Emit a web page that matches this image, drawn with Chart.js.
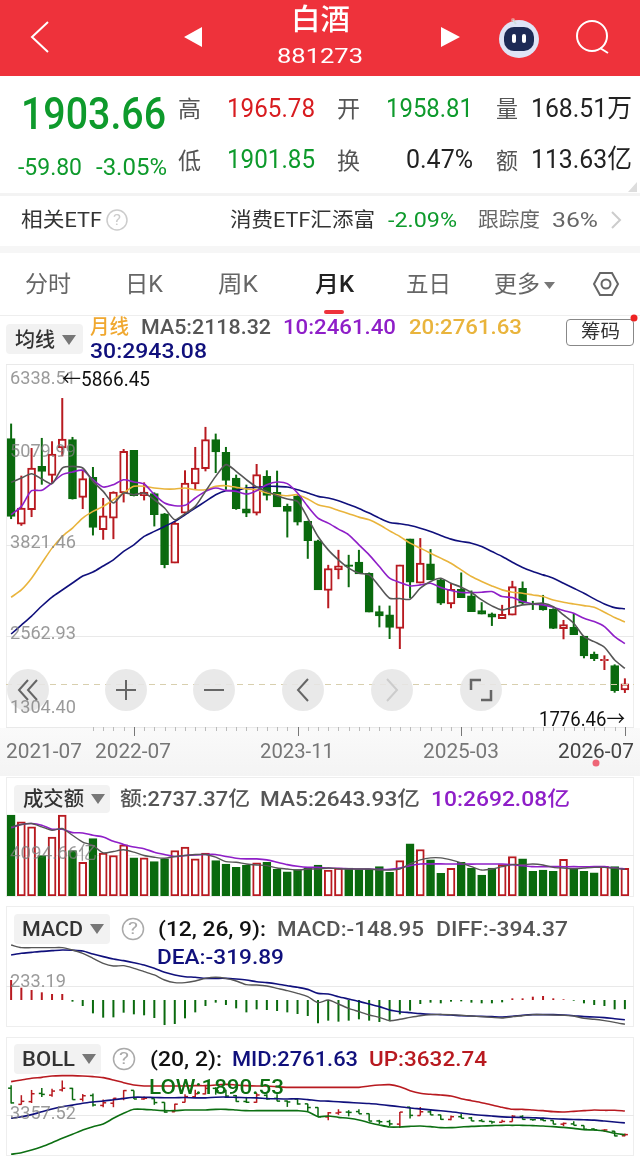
<!DOCTYPE html>
<html lang="zh"><head><meta charset="utf-8"><title>白酒 881273</title>
<script src="https://cdn.jsdelivr.net/npm/chart.js@4"></script>
<style>
html,body{margin:0;padding:0;background:#fff;width:640px;height:1169px;overflow:hidden}
#page{position:relative;width:640px;height:1169px;overflow:hidden;font-family:Roboto,"Noto Sans CJK SC",sans-serif}
.b{position:absolute;box-sizing:border-box}
.t{position:absolute;white-space:nowrap;transform-origin:0 50%;z-index:5}
canvas{position:absolute;z-index:2}
svg{position:absolute;left:0;top:0;z-index:4;pointer-events:none}
</style></head><body><div id="page">
<div class="b" style="left:0;top:0;width:640px;height:76px;background:#ee323b"></div>
<div class="b" style="left:0;top:193px;width:640px;height:3px;background:#f3f3f3"></div>
<div class="b" style="left:0;top:246px;width:640px;height:7px;background:#f6f6f6"></div>
<div class="b" style="left:0;top:315px;width:640px;height:1px;background:#eee"></div>
<div class="b" style="left:324px;top:310px;width:20px;height:4px;border-radius:2px;background:#ee323b"></div>
<div class="b" style="left:0;top:728px;width:640px;height:48px;background:linear-gradient(#fafafa,#f4f4f4)"></div>
<div class="b" style="left:6px;top:364px;width:628px;height:364px;border:1px solid #eee;border-bottom:0"></div>
<div class="b" style="left:6px;top:777px;width:628px;height:120px;border:1px solid #eee"></div>
<div class="b" style="left:6px;top:906px;width:628px;height:121px;border:1px solid #eee"></div>
<div class="b" style="left:6px;top:1037px;width:628px;height:119px;border:1px solid #eee"></div>
<div class="b" style="left:6px;top:324px;width:77px;height:30px;border-radius:4px;background:#f2f2f2"></div>
<div class="b" style="left:14px;top:785px;width:96px;height:28px;border-radius:4px;background:#f2f2f2;z-index:3"></div>
<div class="b" style="left:14px;top:914px;width:96px;height:30px;border-radius:4px;background:#f2f2f2;z-index:3"></div>
<div class="b" style="left:14px;top:1044px;width:87px;height:30px;border-radius:4px;background:#f2f2f2;z-index:3"></div>
<div class="b" style="left:566px;top:319px;width:68px;height:27px;border:1px solid #888;border-radius:4px;background:#fff"></div>
<canvas id="cMain" width="628" height="376" style="left:6px;top:364px"></canvas>
<canvas id="cVol" width="628" height="85" style="left:6px;top:811px"></canvas>
<canvas id="cMacd" width="628" height="85" style="left:6px;top:942px"></canvas>
<canvas id="cBoll" width="628" height="82" style="left:6px;top:1073px"></canvas>
<svg width="640" height="1169" viewBox="0 0 640 1169">
 <path d="M48 22 L32 37 L48 52" fill="none" stroke="#fff" stroke-width="2"/>
 <path d="M202 27 V47 L184 37 Z M441 27 V47 L460 37 Z" fill="#fff"/>
 <ellipse cx="519" cy="39" rx="20" ry="19" fill="#dfe4f6"/><circle cx="513" cy="20" r="2" fill="#e88"/>
 <path d="M513 20 L516 24" stroke="#cdd" stroke-width="2"/>
 <rect x="504" y="27" width="30" height="24" rx="10" fill="#1d2a55"/>
 <rect x="512" y="34" width="4" height="9" rx="2" fill="#fff"/><rect x="522" y="34" width="4" height="9" rx="2" fill="#fff"/>
 <circle cx="592" cy="36" r="15" fill="none" stroke="#fff" stroke-width="2"/><path d="M600 48 L608 53" stroke="#fff" stroke-width="2"/>
 <path d="M628 192 L637 182 V192 Z" fill="#ddd"/>
 <circle cx="117" cy="220" r="10" fill="none" stroke="#ccc" stroke-width="1.5"/>
 <path d="M612 212 L620 220 L612 228" fill="none" stroke="#ccc" stroke-width="2"/>
 <path d="M594 284 L600 273 H612 L618 284 L612 295 H600 Z" fill="none" stroke="#666" stroke-width="2"/><circle cx="606" cy="284" r="4.5" fill="none" stroke="#666" stroke-width="2"/>
 <path d="M544 282 H555 L549.500 289 Z" fill="#777"/>
 <path d="M62 335 H76 L69 345 Z M91 794 H105 L98 804 Z M90 924 H104 L97 934 Z M82 1054 H96 L89 1064 Z" fill="#777"/>
 <circle cx="634" cy="318" r="3.500" fill="#e22"/>
 <circle cx="133" cy="929" r="10.500" fill="none" stroke="#aaa" stroke-width="1.500"/>
 <circle cx="124" cy="1059" r="10.500" fill="none" stroke="#aaa" stroke-width="1.500"/>
 <g fill="#e6e6e6" fill-opacity=".88">
  <circle cx="28" cy="690" r="21"/><circle cx="126" cy="690" r="21"/><circle cx="214" cy="690" r="21"/><circle cx="303" cy="690" r="21"/><circle cx="392" cy="690" r="21"/><circle cx="481" cy="690" r="21"/>
 </g>
 <g fill="none" stroke="#666" stroke-width="2">
  <path d="M28 680 L19 690 L28 700 M37 680 L28 690 L37 700"/>
  <path d="M116 690 H136 M126 680 V700"/><path d="M204 690 H224"/><path d="M308 679 L298 690 L308 701"/>
  <path d="M387 679 L397 690 L387 701" stroke="#ccc"/>
  <path d="M471 690 V680 H481 M491 690 V700 H481" stroke-width="2.500"/>
 </g>
 <circle cx="596" cy="763" r="3.500" fill="#ee6677"/>
</svg>
</div>
<script>
const categories=["2021-07","2021-08","2021-09","2021-10","2021-11","2021-12","2022-01","2022-02","2022-03","2022-04","2022-05","2022-06","2022-07","2022-08","2022-09","2022-10","2022-11","2022-12","2023-01","2023-02","2023-03","2023-04","2023-05","2023-06","2023-07","2023-08","2023-09","2023-10","2023-11","2023-12","2024-01","2024-02","2024-03","2024-04","2024-05","2024-06","2024-07","2024-08","2024-09","2024-10","2024-11","2024-12","2025-01","2025-02","2025-03","2025-04","2025-05","2025-06","2025-07","2025-08","2025-09","2025-10","2025-11","2025-12","2026-01","2026-02","2026-03","2026-04","2026-05","2026-06","2026-07"];
const axisDates=["2021-07","2022-07","2023-11","2025-03","2026-07"];
const opens=[5304,4118,4317,4919,4794,5174,5290,4489,4767,4040,4202,4549,5142,4512,4540,4262,3577,4271,4674,4887,5290,5114,4757,4331,4271,4780,4558,4364,4503,4156,3887,3197,3484,3553,3590,3437,2905,2859,2673,3914,3298,3567,3345,3011,3215,3123,2919,2873,2808,2854,3229,3011,2998,2937,2669,2687,2567,2317,2224,2155,1817];
const closes=[4225,4341,4896,4850,5091,5299,4466,4748,4072,4234,4563,5128,4512,4563,4248,3554,4132,4688,4896,5290,5118,4725,4331,4271,4804,4517,4355,4294,4146,3887,3206,3502,3539,3530,3428,2896,2845,2687,3553,3312,3576,3345,3021,3215,3099,2905,2868,2826,2868,3252,3021,2998,2928,2673,2724,2585,2289,2252,2243,1808,1903.66];
const highs=[5512,4790,5174,5313,5267,5866.45,5327,4873,4910,4480,4572,5160,5142,4697,4558,4271,4155,4864,5188,5466,5373,5188,4804,4665,4952,4864,4859,4401,4526,4165,3901,3553,3761,3692,3761,3447,2988,2988,3553,3914,3924,3771,3359,3298,3447,3197,3035,2891,2998,3331,3322,3053,3136,2951,2789,2882,2567,2349,2298,2173,1979];
const lows=[4188,4095,4216,4665,4679,5058,4460,4327,3961,3901,3910,4419,4503,4447,4086,3507,3577,4248,4595,4850,4827,4595,4317,4216,4239,4447,4355,3933,4100,3637,3206,2951,3354,3243,3428,2896,2687,2525,2386,3090,3298,3345,2998,2951,3099,2905,2868,2706,2808,2854,2998,2928,2919,2664,2521,2585,2257,2220,2095,1780,1776.46];
const ma5=[4697,4757,4817,4743,4679,4896,4919,4896,4711,4572,4410,4549,4526,4549,4456,4341,4179,4262,4364,4572,4780,4943,4850,4734,4632,4572,4512,4466,4433,4202,3947,3761,3623,3507,3437,3414,3252,3090,3086,3076,3229,3322,3368,3298,3243,3169,3067,2984,2928,2965,2998,3011,3021,2974,2859,2743,2558,2488,2410,2234,2118.32];
const ma10=[4248,4364,4581,4586,4688,4804,4841,4864,4734,4632,4665,4734,4702,4674,4526,4410,4373,4378,4480,4572,4618,4586,4572,4535,4581,4665,4702,4679,4549,4364,4202,4132,4049,3970,3831,3692,3530,3368,3308,3261,3275,3298,3238,3197,3169,3169,3173,3183,3113,3099,3044,3011,2998,2965,2919,2882,2812,2766,2697,2558,2461.40];
const ma20=[3104,3206,3368,3577,3785,3947,4063,4202,4294,4364,4456,4549,4642,4642,4618,4605,4605,4618,4595,4595,4642,4651,4628,4605,4595,4549,4526,4512,4526,4466,4387,4354,4308,4262,4215,4178,4109,4025,3947,3854,3785,3715,3646,3576,3484,3391,3322,3261,3206,3173,3160,3136,3113,3067,3035,3011,2988,2965,2896,2822,2761.63];
const ma30=[2594,2718,2843,2982,3107,3204,3301,3398,3453,3537,3623,3739,3831,3947,4017,4086,4156,4248,4341,4433,4526,4581,4586,4618,4628,4642,4642,4632,4595,4549,4503,4479,4442,4391,4336,4271,4201,4141,4123,4099,4062,4016,3961,3910,3877,3854,3808,3738,3669,3590,3516,3461,3414,3368,3298,3229,3160,3081,3011,2960,2943.08];
const amount=[8016,7348,6847,4008,5845,8016,4509,3340,5678,4242,4008,5077,3774,3774,3407,3674,4509,4843,3674,4242,3507,3173,2839,3073,3273,3340,2672,2405,2605,2772,3073,2572,2772,2772,2605,2672,2906,2338,3507,5177,4609,3574,2238,2739,3340,2772,2071,2772,3106,3908,3674,2438,2572,2438,3641,2772,2438,2305,2939,2906,2737.37];
const amountMa5=[6847,7081,7181,6847,6513,6680,6012,5344,5010,4275,4409,4576,4342,4008,3841,3741,3908,4008,4108,4108,3841,3407,3340,3173,3073,3006,2772,2672,2572,2672,2672,2772,2705,2672,2672,2672,2572,2572,2672,3173,3574,3774,3774,3574,3273,2906,2572,2672,2906,3106,3106,3173,3073,2839,2772,2705,2772,2839,2839,2739,2643.93];
const amountMa10=[6747,7081,7181,7014,6613,6613,6279,6246,6012,5845,5411,5110,4843,4676,4342,4108,3908,4008,4075,4108,4108,3908,3741,3674,3674,3574,3340,3106,2939,2839,2839,2772,2739,2705,2672,2672,2639,2639,2772,3006,3173,3173,3180,3165,3170,3160,3175,3170,3173,3106,3006,2906,2906,2910,2900,2906,2900,2906,2906,2772,2692.08];
const diff=[894,851,851,851,851,851,813,759,678,596,553,558,515,461,407,325,282,282,309,352,369,352,309,249,244,228,190,152,108,54,-43,0,-65,-136,-190,-244,-282,-336,-314,-282,-255,-238,-233,-238,-249,-260,-271,-282,-293,-271,-255,-238,-238,-244,-249,-260,-298,-314,-336,-363,-394.37];
const dea=[732,759,775,791,802,813,808,797,748,705,667,640,607,569,515,450,407,379,369,352,352,352,341,325,298,282,260,233,206,173,108,98,54,16,-22,-65,-108,-163,-190,-206,-222,-233,-238,-244,-255,-260,-266,-271,-276,-266,-249,-238,-238,-238,-244,-255,-271,-276,-287,-304,-319.89];
const macd=[325,200,163,125,98,98,-27,-98,-217,-287,-282,-206,-233,-249,-293,-407,-390,-298,-201,-98,-43,-81,-136,-201,-152,-163,-179,-201,-228,-260,-380,-336,-352,-336,-314,-336,-358,-347,-233,-173,-65,-43,-54,-27,-22,-43,-54,-54,-38,27,27,54,65,27,11,-11,-54,-81,-98,-152,-148.95];
const bollUp=[5780,5902,6024,6097,6195,6219,6219,6195,6146,6073,5902,5707,5536,5463,5463,5463,5463,5463,5487,5487,5536,5585,5536,5487,5463,5463,5414,5365,5365,5365,5365,5365,5365,5365,5365,5463,5536,5560,5414,5121,4926,4853,4804,4731,4536,4389,4243,4072,3901,3755,3755,3706,3657,3584,3560,3608,3657,3706,3682,3682,3632.74];
const bollLow=[461,583,778,1022,1315,1632,1925,2242,2486,2681,3096,3462,3755,3755,3706,3657,3657,3706,3706,3706,3755,3755,3706,3657,3657,3657,3657,3657,3657,3584,3218,3267,3169,3096,2974,2779,2608,2462,2462,2510,2535,2486,2413,2413,2462,2510,2535,2559,2584,2584,2584,2559,2535,2486,2437,2364,2266,2242,2169,1998,1890.53];
const priceGrid=[6338.51,5079.99,3821.46,2562.93,1304.40];
const priceTickLabels=["6338.51","5079.99","3821.46","2562.93","1304.40"];
const amountGrid=[4094.66],amountTickLabels=["4094.66亿"];
const macdGrid=[233.19],macdTickLabels=["233.19"];
const bollGrid=[3357.52],bollTickLabels=["3357.52"];
const lastPrice=1903.66;

const GREEN='#0a6a0e',RED='#b81a20',GRAY='#565656',PURPLE='#8f1fc8',YEL='#e9b43c',NAVY='#10107c',QG='#0e9a2c',QR='#d81c20';
const page=document.getElementById('page');
function T(s,x0,x1,yc,size,color,o={}){
  const e=document.createElement('div');e.className='t';e.textContent=s;
  e.style.cssText+=`left:${x0}px;top:${yc-size}px;line-height:${size*2}px;height:${size*2}px;font-size:${size}px;color:${color};font-weight:${o.w||400}`;
  page.appendChild(e);
  if(x1){const w=e.getBoundingClientRect().width;e.style.transform=`scaleX(${(x1-x0)/w})`;}
  return e;
}
const isUp=i=>closes[i]>=opens[i];
const upColor=(c)=>c.dataIndex!==undefined&&isUp(c.dataIndex)?RED:GREEN;
const fillColor=(c)=>c.dataIndex!==undefined&&isUp(c.dataIndex)?'#fff':GREEN;
const lineDs=(data,color,order,w=1.6)=>({type:'line',data,borderColor:color,borderWidth:w,pointRadius:0,tension:.25,order,fill:false});
const wicks=()=>({type:'bar',data:lows.map((l,i)=>[l,highs[i]]),backgroundColor:upColor,barThickness:2,inflateAmount:0,grouped:false,order:9,borderWidth:0});
const bodies=()=>({type:'bar',data:opens.map((o,i)=>[Math.min(o,closes[i]),Math.max(o,closes[i])]),backgroundColor:fillColor,borderColor:upColor,borderWidth:2,borderSkipped:false,barThickness:8,grouped:false,order:8});
const gridPlugin=(vals)=>({id:'frameGrid',beforeDatasetsDraw(ch){const c=ch.ctx,y=ch.scales.y;c.save();c.strokeStyle='#e9e9e9';c.lineWidth=1;
  vals.forEach(v=>{const p=Math.round(y.getPixelForValue(v))+.5;c.beginPath();c.moveTo(0,p);c.lineTo(ch.width,p);c.stroke();});c.restore();}});
const lastLine={id:'lastLine',afterDatasetsDraw(ch){const c=ch.ctx,p=Math.round(ch.scales.y.getPixelForValue(lastPrice))+.5;c.save();c.strokeStyle='#d8cfae';c.setLineDash([6,5]);c.beginPath();c.moveTo(0,p);c.lineTo(ch.width,p);c.stroke();c.restore();}};
const ruler={id:'ruler',afterDraw(ch){const c=ch.ctx,x=ch.scales.x,b=ch.chartArea.bottom;c.save();c.lineWidth=1;
  categories.forEach((d,i)=>{if(i<8)return;const maj=axisDates.includes(d),p=Math.round(x.getPixelForValue(i))+.5;c.beginPath();c.moveTo(p,b);c.lineTo(p,b+(maj?9:4));c.strokeStyle=maj?'#777':'#bbb';c.stroke();});c.restore();}};
function make(id,datasets,min,max,plugins,bottom=0){
  return new Chart(document.getElementById(id),{type:'bar',data:{labels:categories,datasets},plugins,
   options:{responsive:false,animation:false,events:[],layout:{autoPadding:false,padding:{left:0,right:4,top:0,bottom}},
    plugins:{legend:{display:false},tooltip:{enabled:false}},
    scales:{x:{display:false,offset:true},y:{display:false,min,max}}}});
}
const main=make('cMain',[lineDs(ma5,GRAY,1),lineDs(ma10,PURPLE,2),lineDs(ma20,YEL,3),lineDs(ma30,NAVY,4),bodies(),wicks()],1304.40,6338.51,[gridPlugin(priceGrid),lastLine,ruler],13);
const vol=make('cVol',[lineDs(amountMa5,GRAY,1,1.4),lineDs(amountMa10,PURPLE,2,1.6),{type:'bar',data:amount,backgroundColor:fillColor,borderColor:upColor,borderWidth:2,borderSkipped:false,barThickness:8,grouped:false,order:8}],0,8417,[gridPlugin(amountGrid)]);
const mac=make('cMacd',[lineDs(diff,GRAY,1,1.4),lineDs(dea,NAVY,2,1.6),{type:'bar',data:macd,backgroundColor:(c)=>macd[c.dataIndex]>=0?RED:GREEN,barThickness:2,inflateAmount:0,grouped:false,order:8}],-439,943,[gridPlugin(macdGrid)]);
const tickDs=(data,rot)=>({type:'line',data,showLine:false,pointStyle:'dash',pointRotation:rot,pointRadius:3,pointBorderWidth:1.5,pointBorderColor:upColor,pointBackgroundColor:upColor,order:7});
const bol=make('cBoll',[lineDs(bollUp,RED,1,1.6),lineDs(ma20,NAVY,2,1.6),lineDs(bollLow,'#0c6f12',3,1.6),tickDs(opens,180),tickDs(closes,0),{...wicks(),barThickness:1.5}],412,6414,[gridPlugin(bollGrid)]);

// header
T('白酒',291,350,20,29,'#fff',{w:500});
T('881273',277,363,56,21,'#fff');
T('1903.66',21,166,114,45,QG,{w:500});
T('-59.80',18,82,167,24,QG);T('-3.05%',96,167,167,24,QG);
[['高',178,201,110],['开',337,360,110],['量',496,518,110],['低',178,201,162],['换',337,360,162],['额',496,518,162]].forEach(a=>T(a[0],a[1],a[2],a[3],23,'#555'));
T('1965.78',227,315,108,26,QR);T('1958.81',386,473,108,26,QG);T('168.51万',531,632,108,26,'#222');
T('1901.85',227,315,159,26,QG);T('0.47%',406,473,159,26,'#222');T('113.63亿',531,632,159,26,'#222');
T('相关ETF',21,102,220,20,'#333');T('?',113,121,220,15,'#ccc');
T('消费ETF汇添富',230,375,220,20,'#333');T('-2.09%',388,457,220,20,QG);T('跟踪度',478,540,220,20,'#666');T('36%',552,598,220,20,'#666');
[['分时',25,71],['日K',125,163],['周K',218,258],['五日',406,451],['更多',494,540]].forEach(a=>T(a[0],a[1],a[2],285,23,'#666'));
T('月K',315,354,285,23,'#222',{w:500});
// main legend
T('均线',15,55,340,20,'#333',{w:500});
T('月线',90,129,327,20,'#f0a830',{w:500});T('MA5:2118.32',141,271,327,20,GRAY,{w:500});T('10:2461.40',283,396,327,20,PURPLE,{w:500});T('20:2761.63',409,522,327,20,YEL,{w:500});T('30:2943.08',90,207,351,20,NAVY,{w:500});
T('筹码',581,620,332,19,'#333');
// axis values, positioned through each chart's own scale
const ax=(ch,vals,labs,offs,x1s)=>vals.forEach((v,i)=>T(labs[i],10,x1s[i],ch.canvas.offsetTop+ch.scales.y.getPixelForValue(v)+offs[i],18,'rgba(125,125,125,.78)'));
ax(main,priceGrid,priceTickLabels,[14,-4,-3,-3,-20],[76,76,76,76,76]);
ax(vol,amountGrid,amountTickLabels,[-2],[97]);
ax(mac,macdGrid,macdTickLabels,[-5],[66]);
ax(bol,bollGrid,bollTickLabels,[-2],[76]);
T('←5866.45',62,150,379,20,'#111');T('1776.46→',539,625,719,20,'#111');
// x dates
[[0,6,82],[1,95,171],[2,260,334],[3,423,499]].forEach(a=>T(axisDates[a[0]],a[1],a[2],751,20,'#777'));
T(axisDates[4],558,634,751,20,'#444');
// volume legend
T('成交额',23,84,799,20,'#333',{w:500});T('额:2737.37亿',120,250,799,20,GRAY,{w:500});T('MA5:2643.93亿',260,420,799,20,GRAY,{w:500});T('10:2692.08亿',431,570,799,20,PURPLE,{w:500});
// MACD legend
T('MACD',22,83,929,20,'#333',{w:500});T('?',128,138,929,16,'#aaa');T('(12, 26, 9):',158,266,929,20,'#111',{w:500});T('MACD:-148.95',277,424,929,20,GRAY,{w:500});T('DIFF:-394.37',436,568,929,20,GRAY,{w:500});T('DEA:-319.89',157,284,957,20,NAVY,{w:500});
// BOLL legend
T('BOLL',22,75,1059,20,'#333',{w:500});T('?',119,129,1059,16,'#aaa');T('(20, 2):',150,222,1059,20,'#111',{w:500});T('MID:2761.63',232,358,1059,20,NAVY,{w:500});T('UP:3632.74',369,487,1059,20,'#b81a20',{w:500});T('LOW:1890.53',149,284,1087,20,'#0c6f12',{w:500});
</script></body></html>
